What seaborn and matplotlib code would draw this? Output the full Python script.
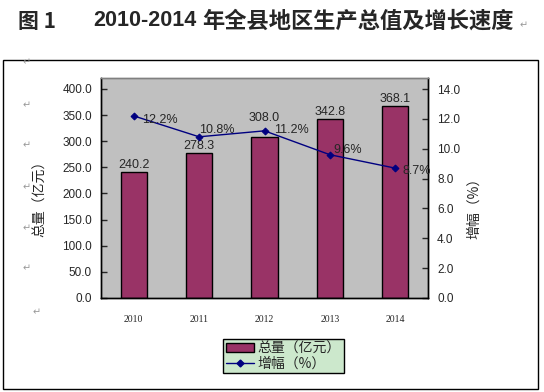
import matplotlib
matplotlib.use("Agg")
import matplotlib.pyplot as plt
import matplotlib.patches as mpatches
from matplotlib.lines import Line2D
import seaborn as sns

# data
years = ["2010", "2011", "2012", "2013", "2014"]
total = [240.2, 278.3, 308.0, 342.8, 368.1]
growth = [12.2, 10.8, 11.2, 9.6, 8.7]

sns.set_style("white")
plt.rcParams['font.family'] = ['Noto Sans CJK SC', 'DejaVu Sans']

W, H = 544, 392
fig = plt.figure(figsize=(W / 100, H / 100), dpi=100)

# outer frame
fig.patches.append(mpatches.Rectangle((3 / W, 1 - 389 / H), 535 / W, 329 / H,
                                      transform=fig.transFigure, fill=False,
                                      edgecolor='black', linewidth=1))

# title
ty = 1 - 21 / H
fig.text(18 / W, ty, "图 1", fontsize=15, fontweight='bold', va='center')
fig.text(93 / W, ty, "2010-2014", fontsize=15.5, fontweight='bold', va='center',
         family='Liberation Sans')
fig.text(202 / W, ty, "年全县地区生产总值及增长速度", fontsize=16,
         fontweight='bold', va='center')
fig.text(520 / W, 1 - 25 / H, "↵", fontsize=7, color='#999999', va='center',
         family='DejaVu Sans')

# stray paragraph marks
for px, py in [(27, 62), (27, 105), (27, 145), (27, 187), (27, 228), (27, 268), (37, 312)]:
    fig.text(px / W, 1 - py / H, "↵", fontsize=7, color='#999999', ha='center',
             va='center', family='DejaVu Sans')

ax = fig.add_axes([101 / W, 1 - 298 / H, 327 / W, 220 / H])
ax.set_facecolor('#C0C0C0')

sns.barplot(x=years, y=total, ax=ax, color='#993366', width=0.4,
            edgecolor='black', linewidth=1, saturation=1)
ax.set_ylim(0, 421)
ax.set_yticks([0, 50, 100, 150, 200, 250, 300, 350, 400])
ax.set_yticklabels([f"{v:.1f}" for v in ax.get_yticks()], family='Liberation Sans', fontsize=8.5)
ax.set_xlim(-0.5, 4.5)
ax.set_xticks(range(len(years)))
ax.set_xticklabels(years, family='Liberation Serif', fontsize=7)
ax.tick_params(axis='x', length=0, pad=12.5)
ax.tick_params(axis='y', direction='in', length=4, width=1, pad=6.5)
# bar label lift in pixels (the 2012 one was moved up off the line)
bar_lift = [1, 1, 13, 1, 1]
for i, v in enumerate(total):
    ax.annotate(f"{v:.1f}", (i, v), xytext=(0, bar_lift[i] * 0.72), textcoords='offset points',
                ha='center', va='bottom', fontsize=9, family='Liberation Sans')

ax2 = ax.twinx()
sns.pointplot(x=years, y=growth, ax=ax2, color='#000080', markers='D',
              markersize=3.5, linewidth=1)
ax2.set_ylim(0, 14.74)
ax2.set_xlim(-0.5, 4.5)
ax2.set_yticks([0, 2, 4, 6, 8, 10, 12, 14])
ax2.set_yticklabels([f"{v:.1f}" for v in ax2.get_yticks()], family='Liberation Sans', fontsize=8.5)
ax2.tick_params(axis='y', direction='in', length=4, width=1, pad=6.5)
ax2.set_ylabel("")
ax2.set_xlabel("")
# label offsets in pixels (right, down) as placed in the original
label_off = [(8, 4), (0, -7), (10, -1), (3, -5), (7, 3)]
for i, v in enumerate(growth):
    dx, dy = label_off[i]
    ax2.annotate(f"{v:.1f}%", (i, v), xytext=(dx * 0.72, -dy * 0.72), textcoords='offset points',
                 ha='left', va='center', fontsize=9, family='Liberation Sans')

for a in (ax, ax2):
    for s in a.spines.values():
        s.set_linewidth(1)
        s.set_color('black')
    a.spines['top'].set_color('#808080')

fig.text(40 / W, 1 - 195 / H, "总量（亿元）", rotation=90, ha='center', va='center', fontsize=10)
fig.text(474 / W, 1 - 205 / H, "增幅（%）", rotation=90, ha='center', va='center', fontsize=10)

handles = [mpatches.Patch(facecolor='#993366', edgecolor='black', linewidth=1),
           Line2D([0], [0], color='#000080', marker='D', markersize=3.5, linewidth=1)]
leg = fig.legend(handles, ["总量（亿元）", "增幅（%）"], loc='center',
                 bbox_to_anchor=(283.5 / W, 1 - 356 / H), fontsize=10,
                 frameon=True, fancybox=False, facecolor='#CCE8CC', edgecolor='black',
                 framealpha=1, borderpad=0.2, labelspacing=0.1, handlelength=2.0,
                 handletextpad=0.3, borderaxespad=0)
leg.get_frame().set_linewidth(1)

fig.savefig("out.png", dpi=100)
